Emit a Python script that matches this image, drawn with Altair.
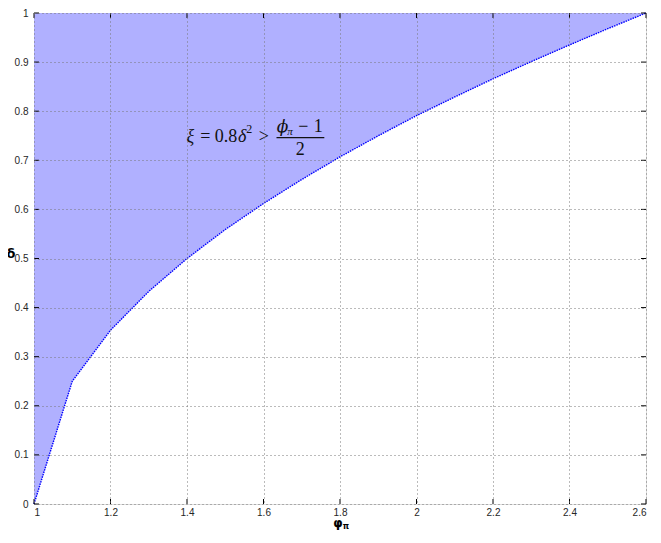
import altair as alt
import pandas as pd

phi = [1.0, 1.1, 1.2, 1.3, 1.4, 1.5, 1.6, 1.7, 1.8, 1.9, 2.0, 2.1, 2.2, 2.3, 2.4, 2.5, 2.6]
delta = [0.0, 0.25, 0.354, 0.433, 0.5, 0.559, 0.612, 0.661, 0.707, 0.75, 0.791,
         0.829, 0.866, 0.901, 0.935, 0.968, 1.0]
x_ticks = [1.0, 1.2, 1.4, 1.6, 1.8, 2.0, 2.2, 2.4, 2.6]
y_ticks = [0, 0.1, 0.2, 0.3, 0.4, 0.5, 0.6, 0.7, 0.8, 0.9, 1.0]

W, H = 612, 491
df = pd.DataFrame({"phi": phi, "delta": delta})
xs = alt.Scale(domain=[1, 2.6], nice=False, zero=False)
ys = alt.Scale(domain=[0, 1], nice=False)

common = dict(grid=True, gridDash=[1, 3], gridColor="#777", gridOpacity=1, tickSize=0,
              labelFont="Liberation Sans", labelFontSize=10, labelColor="#262626",
              domain=False, title=None, zindex=1)
grid_axis_x = alt.Axis(values=x_ticks, labelPadding=3,
                       labelExpr="format(datum.value, '.2~f')", **common)
grid_axis_y = alt.Axis(values=y_ticks, labelPadding=6,
                       labelExpr="format(datum.value, '.1~f')", **common)

area = alt.Chart(df).mark_area(color="#b0b0ff", opacity=1).encode(
    x=alt.X("phi:Q", scale=xs, axis=grid_axis_x),
    y=alt.Y("delta:Q", scale=ys, axis=grid_axis_y),
    y2=alt.datum(1),
)
line = alt.Chart(df).mark_line(color="#0000ff", strokeWidth=1.4, strokeDash=[1.5, 1]).encode(
    x=alt.X("phi:Q", scale=xs), y=alt.Y("delta:Q", scale=ys)
)

xt = pd.DataFrame({"v": x_ticks})
yt = pd.DataFrame({"v": y_ticks})
tick_b = alt.Chart(xt).mark_rule(color="#000", strokeWidth=1).encode(
    x=alt.X("v:Q", scale=xs), y=alt.value(H - 5), y2=alt.value(H))
tick_t = alt.Chart(xt).mark_rule(color="#000", strokeWidth=1).encode(
    x=alt.X("v:Q", scale=xs), y=alt.value(0), y2=alt.value(5))
tick_l = alt.Chart(yt).mark_rule(color="#000", strokeWidth=1).encode(
    y=alt.Y("v:Q", scale=ys), x=alt.value(0), x2=alt.value(5))
tick_r = alt.Chart(yt).mark_rule(color="#000", strokeWidth=1).encode(
    y=alt.Y("v:Q", scale=ys), x=alt.value(W - 5), x2=alt.value(W))


def txt(x, y, t, size=18, style="normal", font="Liberation Serif"):
    return alt.Chart(pd.DataFrame({"x": [x], "y": [y], "t": [t]})).mark_text(
        font=font, fontSize=size, fontStyle=style, color="#111",
        baseline="middle", align="center").encode(
        x=alt.X("x:Q", scale=xs), y=alt.Y("y:Q", scale=ys), text="t:N")


ann = [
    txt(1.409, 0.7475, "ξ", style="italic"),
    txt(1.448, 0.7475, "="),
    txt(1.502, 0.7475, "0.8"),
    txt(1.544, 0.7475, "δ", style="italic"),
    txt(1.563, 0.764, "2", size=12),
    txt(1.601, 0.7475, ">"),
    txt(1.650, 0.768, "ϕ", size=17, style="italic", font="DejaVu Serif"),
    txt(1.669, 0.757, "π", size=11, style="italic"),
    txt(1.704, 0.768, "−"),
    txt(1.743, 0.768, "1"),
    txt(1.696, 0.721, "2"),
]
frac = alt.Chart(pd.DataFrame({"x": [1.634], "x2": [1.759], "y": [0.746]})).mark_rule(
    color="#111", strokeWidth=1.2).encode(
    x=alt.X("x:Q", scale=xs), x2="x2:Q", y=alt.Y("y:Q", scale=ys))

ytitle = alt.Chart(pd.DataFrame({"t": ["δ"]})).mark_text(
    font="DejaVu Sans", fontSize=13, fontWeight="bold", color="#000").encode(
    x=alt.value(-23), y=alt.value(241), text="t:N")
xtitle = alt.Chart(pd.DataFrame({"t": ["φ"]})).mark_text(
    font="DejaVu Sans", fontSize=12, fontWeight="bold", color="#000",
    baseline="alphabetic").encode(
    x=alt.value(304), y=alt.value(514), text="t:N")
xsub = alt.Chart(pd.DataFrame({"t": ["π"]})).mark_text(
    font="DejaVu Sans", fontSize=8, fontWeight="bold", color="#000",
    baseline="alphabetic").encode(
    x=alt.value(312), y=alt.value(516), text="t:N")

chart = alt.layer(area, line, tick_b, tick_t, tick_l, tick_r, frac, *ann,
                  ytitle, xtitle, xsub).properties(
    width=W, height=H,
    autosize=alt.AutoSizeParams(type="none"),
    padding={"left": 26, "top": 5, "right": 7, "bottom": 26},
).configure_view(stroke="#000", strokeWidth=1.2).configure(background="white")

chart.save("out.html", embed_options={"renderer": "svg", "actions": False})
